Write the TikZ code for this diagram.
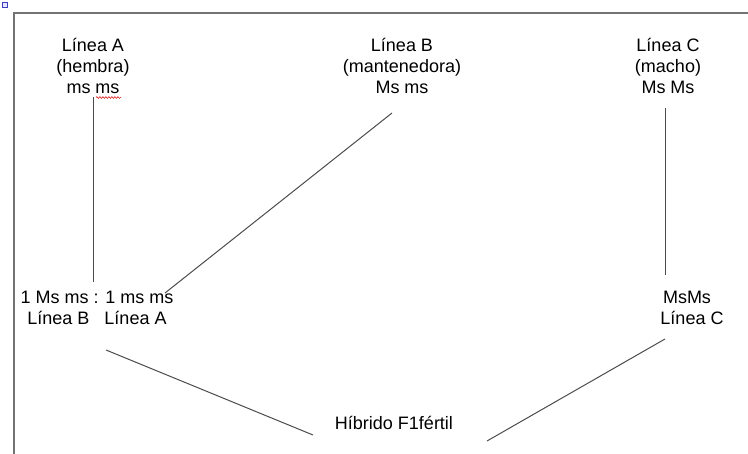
\documentclass[tikz,border=0pt]{standalone}
\usepackage{fontspec}
\setmainfont{Liberation Sans}
\usetikzlibrary{decorations.pathmorphing}
\begin{document}
\begin{tikzpicture}[x=1pt,y=-1pt,
  lbl/.style={font=\fontsize{18}{21}\selectfont, align=center, inner sep=0pt},
  link/.style={draw=black!70, line width=1pt},
  frame/.style={draw=black!55, line width=1.2pt}]
\useasboundingbox (0,0) rectangle (748,454);
\fill[white] (0,0) rectangle (748,454);
% page corner marker and margins
\draw[draw=blue!50!gray, fill=blue!10, line width=0.6pt] (2,2) rectangle (7,7);
\draw[frame] (748,13) -- (14,13) -- (14,454);

% parent lines
\node[lbl] (lineaA) at (93,66) {Línea A\\ (hembra)\\ ms ms};
\node[lbl] (lineaB) at (402,66) {Línea B\\ (mantenedora)\\ Ms ms};
\node[lbl] (lineaC) at (668,66) {Línea C\\ (macho)\\ Ms Ms};
% spelling mark under the second "ms"
\draw[red!85!black, line width=0.5pt, decorate,
      decoration={snake, amplitude=0.9pt, segment length=3pt}] (96,97.5) -- (121,97.5);

% offspring
\node[lbl] (cruceAB) at (97,308) {1 Ms ms : 1 ms ms\\ Línea B \ \ Línea A};
\node[lbl] (cruceC) at (687,308) {MsMs\\ \ \ Línea C};
\node[lbl] (hibrido) at (394,423) {Híbrido F1fértil};

% connector ends
\coordinate (aTop) at (93,97);
\coordinate (aBot) at (93,282);
\coordinate (bTop) at (392,113);
\coordinate (bBot) at (165,293);
\coordinate (cTop) at (665,108);
\coordinate (cBot) at (665,275);
\coordinate (abOut) at (106,350);
\coordinate (hL) at (313,435);
\coordinate (cOut) at (665,339);
\coordinate (hR) at (487,441);

\draw[link] (aTop) -- (aBot);
\draw[link] (bTop) -- (bBot);
\draw[link] (cTop) -- (cBot);
\draw[link] (abOut) -- (hL);
\draw[link] (cOut) -- (hR);
\end{tikzpicture}
\end{document}
